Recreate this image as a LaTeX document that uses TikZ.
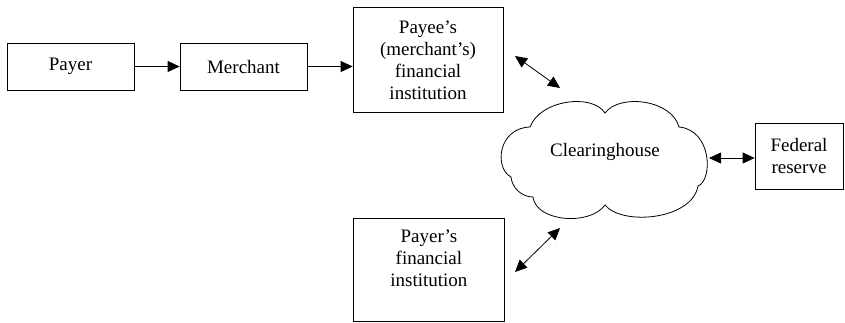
\documentclass[tikz,border=0pt]{standalone}
\usepackage{fontspec}
\setmainfont{Liberation Serif}
\usetikzlibrary{arrows.meta}
\begin{document}
\begin{tikzpicture}[x=1pt,y=-1pt,
  lbl/.style={font=\fontsize{19}{22}\selectfont, align=center, inner sep=0pt},
  box/.style={lbl, draw, line width=0.8pt},
  flow/.style={line width=0.8pt, -{Triangle[length=12pt,width=11pt]}},
  both/.style={line width=0.8pt, {Triangle[length=12pt,width=11pt]}-{Triangle[length=12pt,width=11pt]}}]
\useasboundingbox (0,0) rectangle (845,322);

% boxes
\node[box, minimum width=127pt, minimum height=47pt] (payer) at (70.5,66.5) {Payer};
\node[box, minimum width=127pt, minimum height=47pt] (merchant) at (243.5,66.5) {Merchant};
\node[box, minimum width=150pt, minimum height=105pt] (payee) at (428,60)
  {Payee’s\\(merchant’s)\\financial\\institution};
\node[box, minimum width=88pt, minimum height=66pt] (fed) at (799,156) {Federal\\reserve};
\node[box, minimum width=151pt, minimum height=103pt, anchor=north west] (payerfi) at (353,218) {};
\node[lbl, anchor=north] (payerfitext) at ([yshift=-12pt]payerfi.north)
  {Payer’s\\financial\\institution};

% clearinghouse cloud
\draw[line width=0.8pt]
  (530,127) .. controls (540,100) and (592,93) .. (605,113)
  .. controls (620,93) and (672,100) .. (679,127)
  .. controls (712,130) and (713,180) .. (698,186)
  .. controls (692,220) and (622,226) .. (605,205)
  .. controls (590,226) and (536,222) .. (533,197)
  .. controls (522,197) and (512,188) .. (511,177)
  .. controls (494,168) and (498,128) .. (530,127) -- cycle;
\node[lbl] (cloud) at (605,152) {Clearinghouse};

% connectors
\draw[flow] (payer.east) -- (merchant.west);
\draw[flow] (merchant.east) -- (payee.west |- merchant.east);
\coordinate (a1) at (515,56);
\coordinate (a2) at (560,88);
\draw[both] (a1) -- (a2);
\coordinate (b1) at (515,272);
\coordinate (b2) at (560,228);
\draw[both] (b1) -- (b2);
\coordinate (c1) at (709,158);
\draw[both] (c1) -- (fed.west |- c1);
\end{tikzpicture}
\end{document}
